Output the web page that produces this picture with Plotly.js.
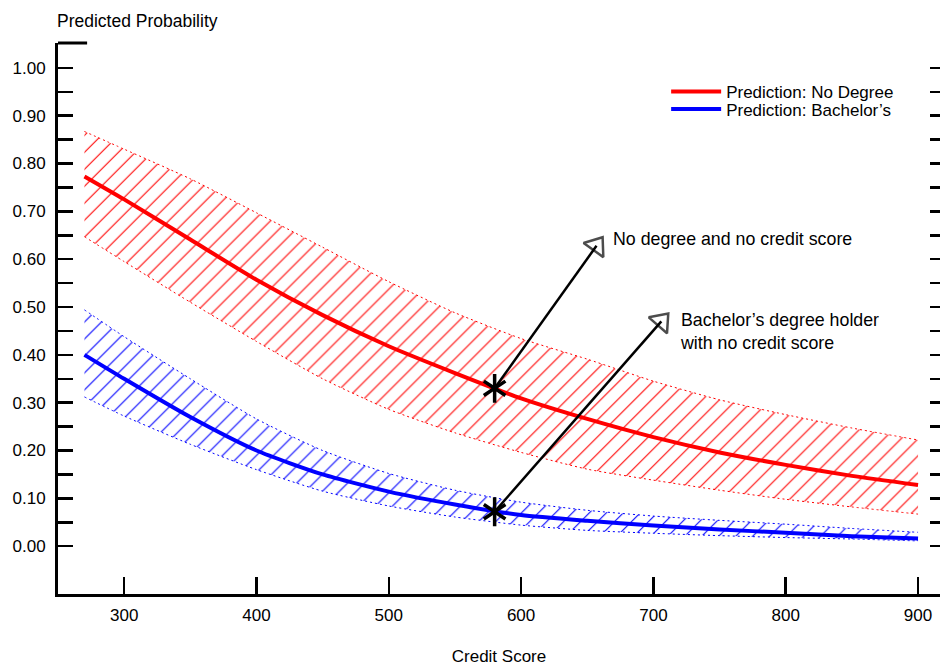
<!DOCTYPE html>
<html><head><meta charset="utf-8">
<script src="https://cdn.plot.ly/plotly-3.0.1.min.js"></script>
<style>html,body{margin:0;padding:0;background:#fff}</style>
</head><body><div id="chart" style="width:940px;height:666px"></div>
<script>
// ---- data ----
const creditScore   = [270, 300, 350, 400, 450, 500, 550, 600, 650, 700, 750, 800, 850, 900];
const noDegreePred  = [0.773, 0.725, 0.641, 0.557, 0.483, 0.418, 0.362, 0.309, 0.266, 0.228, 0.196, 0.170, 0.147, 0.128];
const noDegreeUpper = [0.867, 0.830, 0.768, 0.697, 0.625, 0.553, 0.488, 0.434, 0.391, 0.345, 0.306, 0.275, 0.247, 0.222];
const noDegreeLower = [0.647, 0.595, 0.510, 0.428, 0.350, 0.286, 0.237, 0.196, 0.161, 0.138, 0.117, 0.098, 0.082, 0.067];
const bachPred      = [0.400, 0.350, 0.270, 0.200, 0.150, 0.114, 0.087, 0.065, 0.053, 0.043, 0.035, 0.028, 0.021, 0.016];
const bachUpper     = [0.494, 0.438, 0.350, 0.266, 0.200, 0.152, 0.117, 0.092, 0.075, 0.063, 0.054, 0.046, 0.037, 0.029];
const bachLower     = [0.312, 0.272, 0.213, 0.160, 0.115, 0.084, 0.061, 0.044, 0.033, 0.027, 0.022, 0.018, 0.015, 0.011];

const seriesNames = ['Prediction: No Degree', 'Prediction: Bachelor’s'];
// highlighted points (no credit score) and the arrow heads pointing to their labels
const markX      = [580, 580];
const markY      = [0.330, 0.072];
const arrowHeadX = [657, 706];
const arrowHeadY = [0.628, 0.470];
const labelX     = [670, 721];
const labelY     = [0.642, 0.448];
const labelText  = ['No degree and no credit score', 'Bachelor’s degree holder<br>with no credit score'];

const yTickVals = [0,0.05,0.1,0.15,0.2,0.25,0.3,0.35,0.4,0.45,0.5,0.55,0.6,0.65,0.7,0.75,0.8,0.85,0.9,0.95,1.0];
const yTickText = ['0.00','','0.10','','0.20','','0.30','','0.40','','0.50','','0.60','','0.70','','0.80','','0.90','','1.00'];
const xTickVals = [300, 400, 500, 600, 700, 800, 900];

const FONT = 'Liberation Sans, Arial, sans-serif';
const RED = '#ff0000', BLUE = '#0000ff';

function band(upper, lower, color) {
  return [
    {x: creditScore, y: upper, type: 'scatter', mode: 'lines', showlegend: false, hoverinfo: 'skip',
     line: {color: color, width: 1, dash: '2px,3px', shape: 'spline', smoothing: 0.6}},
    {x: creditScore, y: lower, type: 'scatter', mode: 'lines', showlegend: false, hoverinfo: 'skip',
     line: {color: color, width: 1, dash: '2px,3px', shape: 'spline', smoothing: 0.6},
     fill: 'tonexty', fillcolor: 'rgba(0,0,0,0)',
     fillpattern: {shape: '/', fgcolor: color, bgcolor: 'rgba(0,0,0,0)', size: 12, solidity: 0.09, fillmode: 'replace'}}
  ];
}

const traces = [];
traces.push(...band(noDegreeUpper, noDegreeLower, RED));
traces.push(...band(bachUpper, bachLower, BLUE));
traces.push({x: creditScore, y: noDegreePred, type: 'scatter', mode: 'lines', name: seriesNames[0],
  legend: 'legend', line: {color: RED, width: 4, shape: 'spline', smoothing: 0.6}});
traces.push({x: creditScore, y: bachPred, type: 'scatter', mode: 'lines', name: seriesNames[1],
  legend: 'legend2', line: {color: BLUE, width: 4, shape: 'spline', smoothing: 0.6}});

for (let i = 0; i < markX.length; i++) {
  traces.push({x: [markX[i], arrowHeadX[i]], y: [markY[i], arrowHeadY[i]], type: 'scatter', mode: 'lines+markers',
    showlegend: false, hoverinfo: 'skip', line: {color: '#000', width: 2.5},
    marker: {symbol: 'triangle-up-open', size: [0, 21], angleref: 'previous', color: '#000',
             line: {color: '#000', width: 2.5}}});
}
traces.push({x: markX, y: markY, type: 'scatter', mode: 'markers', showlegend: false, hoverinfo: 'skip',
  marker: {symbol: 'y-up-open', size: 18, color: '#000', line: {color: '#000', width: 3.5}}});
traces.push({x: markX, y: markY, type: 'scatter', mode: 'markers', showlegend: false, hoverinfo: 'skip',
  marker: {symbol: 'y-down-open', size: 18, color: '#000', line: {color: '#000', width: 3.5}}});
// invisible trace for the right-side tick axis
traces.push({x: [creditScore[0]], y: [noDegreePred[0]], yaxis: 'y2', type: 'scatter', mode: 'markers',
  showlegend: false, hoverinfo: 'skip', marker: {opacity: 0}});

const annotations = labelText.map((t, i) => ({
  x: labelX[i], y: labelY[i], xref: 'x', yref: 'y', text: t, showarrow: false, xshift: -3,
  xanchor: 'left', yanchor: 'middle', align: 'left', font: {family: FONT, size: 17.8, color: '#000'}
}));
annotations.push({x: 0, y: 1, xref: 'paper', yref: 'paper', xanchor: 'left', yanchor: 'middle', yshift: 22, xshift: -3,
  text: 'Predicted Probability', showarrow: false, font: {family: FONT, size: 17.5, color: '#000'}});

const yRange = [-0.1, 1.052];
const layout = {
  width: 940, height: 666,
  margin: {l: 58, r: 0, t: 43, b: 72},
  paper_bgcolor: '#fff', plot_bgcolor: '#fff',
  font: {family: FONT, size: 17, color: '#000'},
  xaxis: {range: [250, 916.6], tickvals: xTickVals, ticks: 'inside', ticklen: 17, tickwidth: 2.5,
    tickcolor: '#000', showline: true, linewidth: 3, linecolor: '#000', showgrid: false, zeroline: false,
    ticklabelstandoff: 4, tickfont: {family: FONT, size: 17},
    title: {text: 'Credit Score', font: {family: FONT, size: 17}, standoff: 30}},
  yaxis: {range: yRange, tickvals: yTickVals, ticktext: yTickText, ticks: 'inside', ticklen: 15, tickwidth: 2.5,
    tickcolor: '#000', showline: true, linewidth: 3, linecolor: '#000', showgrid: false, zeroline: false,
    ticklabelstandoff: 6, tickfont: {family: FONT, size: 17}},
  yaxis2: {range: yRange, overlaying: 'y', side: 'right', anchor: 'x', tickvals: yTickVals, ticks: 'inside',
    ticklen: 10, tickwidth: 2.5, tickcolor: '#000', showticklabels: false, showline: false,
    showgrid: false, zeroline: false},
  legend: {x: 0.6895, y: 0.911, xanchor: 'left', yanchor: 'middle', bgcolor: 'rgba(0,0,0,0)',
    font: {family: FONT, size: 17}, itemwidth: 50},
  legend2: {x: 0.6895, y: 0.8795, xanchor: 'left', yanchor: 'middle', bgcolor: 'rgba(0,0,0,0)',
    font: {family: FONT, size: 17}, itemwidth: 50},
  shapes: [{type: 'line', xref: 'paper', yref: 'paper', x0: 0, x1: 0.033, y0: 1, y1: 1,
    line: {color: '#000', width: 3}}],
  annotations: annotations,
  showlegend: true
};
Plotly.newPlot('chart', traces, layout, {staticPlot: true, displayModeBar: false});
</script></body></html>
